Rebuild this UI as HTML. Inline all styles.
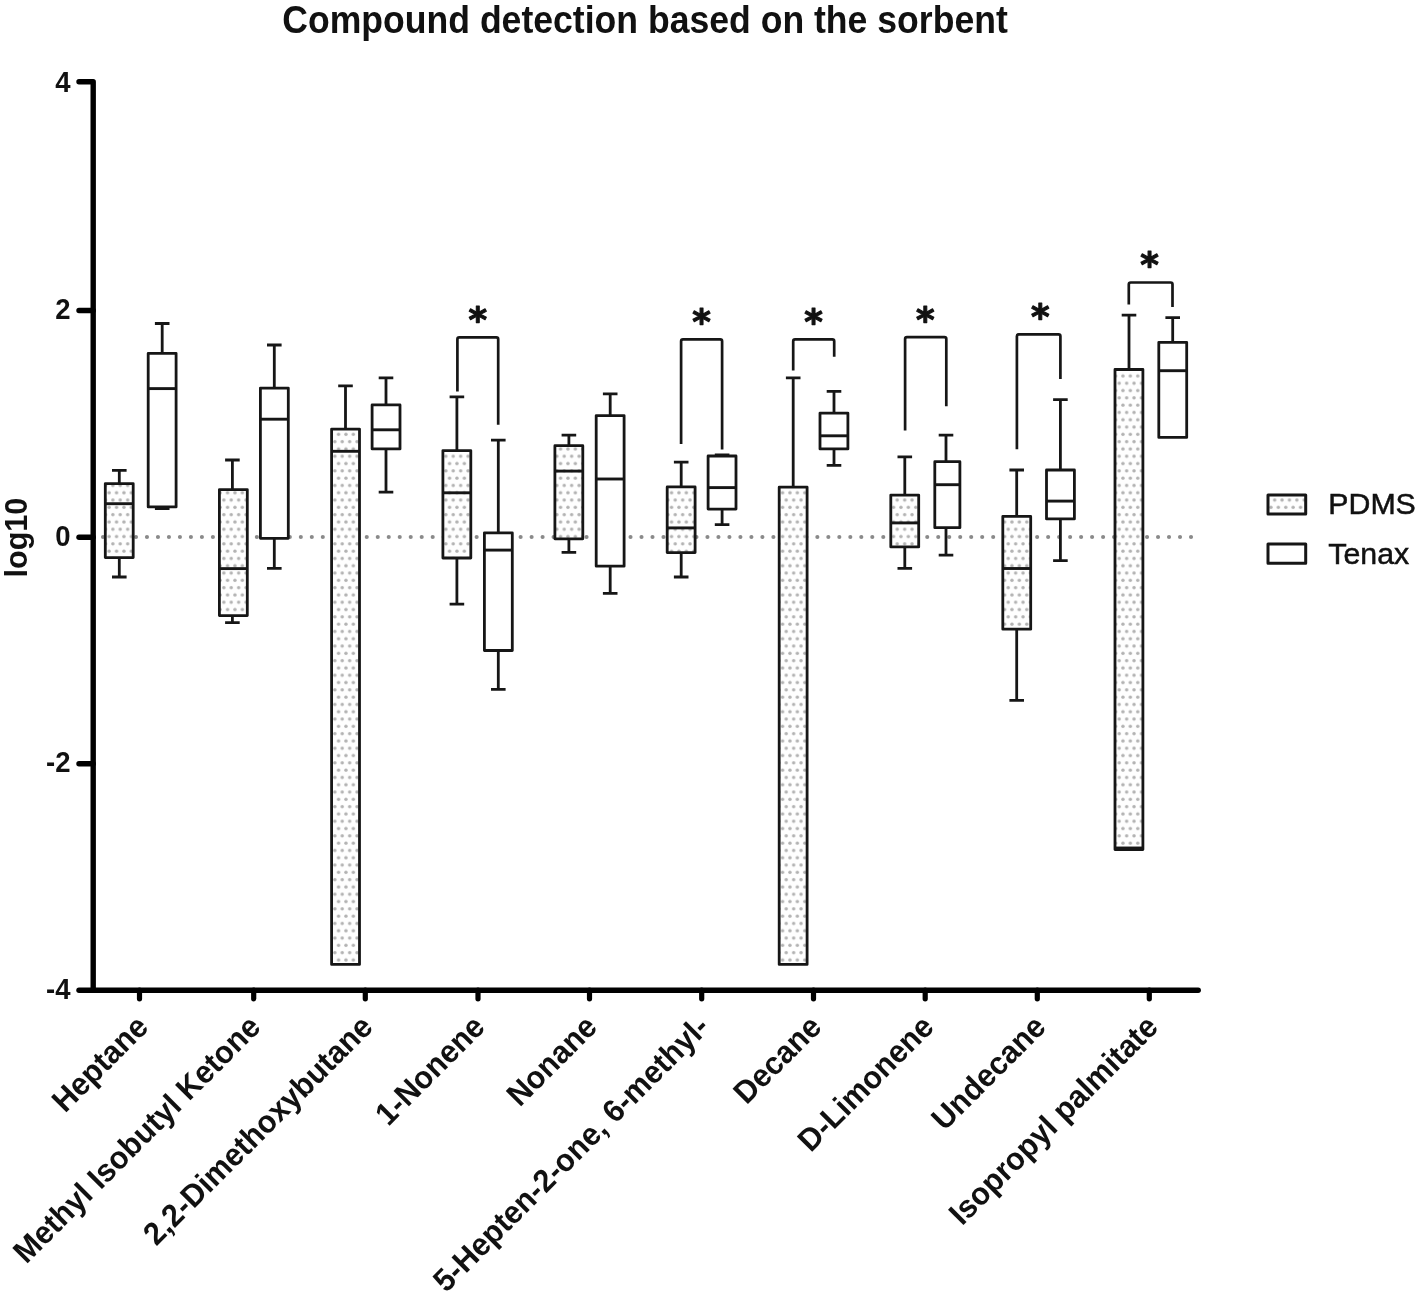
<!DOCTYPE html>
<html lang="en"><head><meta charset="utf-8"><title>Compound detection based on the sorbent</title>
<style>
html,body{margin:0;padding:0;background:#fff;}
body{width:1425px;height:1296px;overflow:hidden;}
svg{display:block;}
text{font-family:"Liberation Sans",Arial,sans-serif;fill:#111;}
.b{font-weight:bold;}
</style></head><body>
<svg width="1425" height="1296" viewBox="0 0 1425 1296">
<defs>
<pattern id="dots" width="7.4" height="14.6" patternUnits="userSpaceOnUse">
<rect width="7.4" height="14.6" fill="#fefefe"/>
<circle cx="1.85" cy="3.65" r="1.7" fill="#b2b2b2"/>
<circle cx="5.55" cy="10.95" r="1.7" fill="#b2b2b2"/>
</pattern>
</defs>
<rect width="1425" height="1296" fill="#fff"/>
<text class="b" transform="translate(645 32.9) scale(1 1.09)" font-size="35.6" text-anchor="middle">Compound detection based on the sorbent</text>
<line x1="103" y1="537" x2="1191.6" y2="537" stroke="#8a8a8a" stroke-width="4.1" stroke-linecap="round" stroke-dasharray="0.01 10.98"/>
<g stroke="#161616" stroke-width="2.8" stroke-linejoin="round" fill="none">
<path d="M119.3 483.6V470.4M112.0 470.4H126.6"/>
<path d="M119.3 557.6V577.0M112.0 577.0H126.6"/>
<rect x="105.3" y="483.6" width="27.9" height="74.0" fill="url(#dots)"/>
<path d="M105.3 503.7H133.2" stroke-width="2.9"/>
<path d="M162.2 353.3V323.5M154.9 323.5H169.5"/>
<path d="M162.2 506.9V508.6M154.9 508.6H169.5"/>
<rect x="148.2" y="353.3" width="27.9" height="153.6" fill="#fff"/>
<path d="M148.2 388.6H176.2" stroke-width="2.9"/>
<path d="M232.4 489.6V460.0M225.1 460.0H239.7"/>
<path d="M232.4 615.6V622.6M225.1 622.6H239.7"/>
<rect x="219.4" y="489.6" width="27.9" height="126.0" fill="url(#dots)"/>
<path d="M219.4 568.6H247.3" stroke-width="2.9"/>
<path d="M274.3 388.1V345.0M267.0 345.0H281.6"/>
<path d="M274.3 538.3V568.4M267.0 568.4H281.6"/>
<rect x="260.4" y="388.1" width="27.9" height="150.2" fill="#fff"/>
<path d="M260.4 419.2H288.2" stroke-width="2.9"/>
<path d="M345.5 429.1V385.9M338.2 385.9H352.8"/>
<rect x="331.6" y="429.1" width="27.9" height="535.3" fill="url(#dots)"/>
<path d="M331.6 451.3H359.4" stroke-width="2.9"/>
<path d="M386.0 404.9V377.8M378.7 377.8H393.3"/>
<path d="M386.0 448.9V492.1M378.7 492.1H393.3"/>
<rect x="372.1" y="404.9" width="27.9" height="44.0" fill="#fff"/>
<path d="M372.1 429.8H399.9" stroke-width="2.9"/>
<path d="M456.9 450.6V396.8M449.6 396.8H464.2"/>
<path d="M456.9 558.0V604.2M449.6 604.2H464.2"/>
<rect x="442.9" y="450.6" width="27.9" height="107.4" fill="url(#dots)"/>
<path d="M442.9 492.8H470.8" stroke-width="2.9"/>
<path d="M498.3 532.8V440.2M491.0 440.2H505.6"/>
<path d="M498.3 650.5V689.3M491.0 689.3H505.6"/>
<rect x="484.4" y="532.8" width="27.9" height="117.7" fill="#fff"/>
<path d="M484.4 550.1H512.2" stroke-width="2.9"/>
<path d="M568.9 445.7V435.1M561.6 435.1H576.2"/>
<path d="M568.9 538.8V552.3M561.6 552.3H576.2"/>
<rect x="554.9" y="445.7" width="27.9" height="93.1" fill="url(#dots)"/>
<path d="M554.9 471.1H582.8" stroke-width="2.9"/>
<path d="M610.2 415.6V393.8M602.9 393.8H617.5"/>
<path d="M610.2 566.2V593.3M602.9 593.3H617.5"/>
<rect x="596.2" y="415.6" width="27.9" height="150.6" fill="#fff"/>
<path d="M596.2 479.0H624.1" stroke-width="2.9"/>
<path d="M681.2 486.9V462.2M673.9 462.2H688.5"/>
<path d="M681.2 552.6V577.0M673.9 577.0H688.5"/>
<rect x="667.2" y="486.9" width="27.9" height="65.7" fill="url(#dots)"/>
<path d="M667.2 527.9H695.1" stroke-width="2.9"/>
<path d="M722.1 456.0V454.8M714.8 454.8H729.4"/>
<path d="M722.1 509.1V524.7M714.8 524.7H729.4"/>
<rect x="708.1" y="456.0" width="27.9" height="53.1" fill="#fff"/>
<path d="M708.1 487.6H736.0" stroke-width="2.9"/>
<path d="M793.2 487.2V377.8M785.9 377.8H800.5"/>
<rect x="779.2" y="487.2" width="27.9" height="477.2" fill="url(#dots)"/>
<path d="M834.0 413.1V391.4M826.7 391.4H841.3"/>
<path d="M834.0 448.9V465.4M826.7 465.4H841.3"/>
<rect x="820.0" y="413.1" width="27.9" height="35.8" fill="#fff"/>
<path d="M820.0 435.8H847.9" stroke-width="2.9"/>
<path d="M904.8 495.1V456.8M897.5 456.8H912.1"/>
<path d="M904.8 546.9V568.4M897.5 568.4H912.1"/>
<rect x="890.8" y="495.1" width="27.9" height="51.8" fill="url(#dots)"/>
<path d="M890.8 522.9H918.7" stroke-width="2.9"/>
<path d="M946.0 461.7V435.1M938.7 435.1H953.3"/>
<path d="M946.0 527.7V555.1M938.7 555.1H953.3"/>
<rect x="934.8" y="461.7" width="25.1" height="66.0" fill="#fff"/>
<path d="M934.8 484.7H959.9" stroke-width="2.9"/>
<path d="M1016.7 516.4V470.0M1009.4 470.0H1024.0"/>
<path d="M1016.7 629.2V700.3M1009.4 700.3H1024.0"/>
<rect x="1002.8" y="516.4" width="27.9" height="112.8" fill="url(#dots)"/>
<path d="M1002.8 568.5H1030.7" stroke-width="2.9"/>
<path d="M1060.4 470.0V399.6M1053.1 399.6H1067.7"/>
<path d="M1060.4 518.9V560.7M1053.1 560.7H1067.7"/>
<rect x="1046.5" y="470.0" width="27.9" height="48.9" fill="#fff"/>
<path d="M1046.5 501.1H1074.4" stroke-width="2.9"/>
<path d="M1129.0 369.5V315.2M1121.7 315.2H1136.3"/>
<rect x="1115.0" y="369.5" width="27.9" height="480.1" fill="url(#dots)"/>
<path d="M1115.0 848.0H1143.0" stroke-width="2.9"/>
<path d="M1172.7 342.3V317.7M1165.4 317.7H1180.0"/>
<rect x="1158.8" y="342.3" width="27.9" height="95.1" fill="#fff"/>
<path d="M1158.8 370.7H1186.7" stroke-width="2.9"/>
</g>
<g stroke="#161616" stroke-width="2.7" stroke-linejoin="round" fill="none">
<path d="M457.4 391.4V339.2Q457.4 337.3 459.3 337.3H496.3Q498.2 337.3 498.2 339.2V424.7"/>
<path d="M681.1 444.0V341.3Q681.1 339.4 683.0 339.4H720.2Q722.1 339.4 722.1 341.3V449.4"/>
<path d="M793.2 370.4V341.3Q793.2 339.4 795.1 339.4H832.3Q834.2 339.4 834.2 341.3V356.8"/>
<path d="M905.1 430.4V339.0Q905.1 337.1 907.0 337.1H944.4Q946.3 337.1 946.3 339.0V406.2"/>
<path d="M1016.9 449.3V336.2Q1016.9 334.3 1018.8 334.3H1058.5Q1060.4 334.3 1060.4 336.2V378.9"/>
<path d="M1128.8 304.6V284.4Q1128.8 282.5 1130.7 282.5H1170.6Q1172.5 282.5 1172.5 284.4V307.0"/>
</g>
<text class="ast" x="477.8" y="331.9" font-size="35.5" text-anchor="middle" stroke="#111" stroke-width="1.1" stroke-linejoin="round" style="font-family:'DejaVu Sans','Liberation Sans',sans-serif;font-weight:bold">*</text>
<text class="ast" x="701.6" y="334.3" font-size="35.5" text-anchor="middle" stroke="#111" stroke-width="1.1" stroke-linejoin="round" style="font-family:'DejaVu Sans','Liberation Sans',sans-serif;font-weight:bold">*</text>
<text class="ast" x="813.5" y="334.3" font-size="35.5" text-anchor="middle" stroke="#111" stroke-width="1.1" stroke-linejoin="round" style="font-family:'DejaVu Sans','Liberation Sans',sans-serif;font-weight:bold">*</text>
<text class="ast" x="925.3" y="331.9" font-size="35.5" text-anchor="middle" stroke="#111" stroke-width="1.1" stroke-linejoin="round" style="font-family:'DejaVu Sans','Liberation Sans',sans-serif;font-weight:bold">*</text>
<text class="ast" x="1040.4" y="329.3" font-size="35.5" text-anchor="middle" stroke="#111" stroke-width="1.1" stroke-linejoin="round" style="font-family:'DejaVu Sans','Liberation Sans',sans-serif;font-weight:bold">*</text>
<text class="ast" x="1149.5" y="277.2" font-size="35.5" text-anchor="middle" stroke="#111" stroke-width="1.1" stroke-linejoin="round" style="font-family:'DejaVu Sans','Liberation Sans',sans-serif;font-weight:bold">*</text>
<g stroke="#000" stroke-width="5.4" fill="none" stroke-linecap="round">
<path d="M79 81.7H93.2V990.2" stroke-linejoin="round"/>
<path d="M79 990.2H1198.2"/>
<path d="M79 310.5H93.2"/>
<path d="M79 537.2H93.2"/>
<path d="M79 763.7H93.2"/>
<path d="M139.5 990.2V998.8" stroke-width="5.2"/>
<path d="M253.7 990.2V998.8" stroke-width="5.2"/>
<path d="M365.3 990.2V998.8" stroke-width="5.2"/>
<path d="M478.0 990.2V998.8" stroke-width="5.2"/>
<path d="M589.5 990.2V998.8" stroke-width="5.2"/>
<path d="M701.7 990.2V998.8" stroke-width="5.2"/>
<path d="M813.5 990.2V998.8" stroke-width="5.2"/>
<path d="M925.2 990.2V998.8" stroke-width="5.2"/>
<path d="M1037.3 990.2V998.8" stroke-width="5.2"/>
<path d="M1149.3 990.2V998.8" stroke-width="5.2"/>
</g>
<text class="b" transform="translate(70.5 91.9) scale(1 1.045)" font-size="27.5" text-anchor="end">4</text>
<text class="b" transform="translate(70.5 319.2) scale(1 1.045)" font-size="27.5" text-anchor="end">2</text>
<text class="b" transform="translate(70.5 545.9) scale(1 1.045)" font-size="27.5" text-anchor="end">0</text>
<text class="b" transform="translate(70.5 772.4) scale(1 1.045)" font-size="27.5" text-anchor="end">-2</text>
<text class="b" transform="translate(70.5 998.7) scale(1 1.045)" font-size="27.5" text-anchor="end">-4</text>
<text class="b" font-size="30.6" text-anchor="middle" transform="translate(27.2 537.6) rotate(-90)">log10</text>
<text class="b" font-size="30.5" text-anchor="end" transform="translate(150.0 1028.7) rotate(-45) scale(1 1.04)">Heptane</text>
<text class="b" font-size="30.5" text-anchor="end" transform="translate(262.2 1028.7) rotate(-45) scale(1 1.04)">Methyl Isobutyl Ketone</text>
<text class="b" font-size="30.5" text-anchor="end" transform="translate(374.4 1028.7) rotate(-45) scale(1 1.04)">2,2-Dimethoxybutane</text>
<text class="b" font-size="30.5" text-anchor="end" transform="translate(486.6 1028.7) rotate(-45) scale(1 1.04)">1-Nonene</text>
<text class="b" font-size="30.5" text-anchor="end" transform="translate(598.8 1028.7) rotate(-45) scale(1 1.04)">Nonane</text>
<text class="b" font-size="30.5" text-anchor="end" transform="translate(711.0 1028.7) rotate(-45) scale(1 1.04)">5-Hepten-2-one, 6-methyl-</text>
<text class="b" font-size="30.5" text-anchor="end" transform="translate(823.2 1028.7) rotate(-45) scale(1 1.04)">Decane</text>
<text class="b" font-size="30.5" text-anchor="end" transform="translate(935.4 1028.7) rotate(-45) scale(1 1.04)">D-Limonene</text>
<text class="b" font-size="30.5" text-anchor="end" transform="translate(1047.6 1028.7) rotate(-45) scale(1 1.04)">Undecane</text>
<text class="b" font-size="30.5" text-anchor="end" transform="translate(1159.8 1028.7) rotate(-45) scale(1 1.04)">Isopropyl palmitate</text>
<rect x="1268" y="494.9" width="37.7" height="19.2" fill="url(#dots)" stroke="#161616" stroke-width="3" stroke-linejoin="round"/>
<rect x="1268" y="544" width="37.7" height="19.2" fill="#fff" stroke="#161616" stroke-width="3" stroke-linejoin="round"/>
<text x="1328.3" y="514" font-size="30.3" stroke="#111" stroke-width="0.5">PDMS</text>
<text x="1328.3" y="564" font-size="30.3" stroke="#111" stroke-width="0.5">Tenax</text>
</svg>
</body></html>
